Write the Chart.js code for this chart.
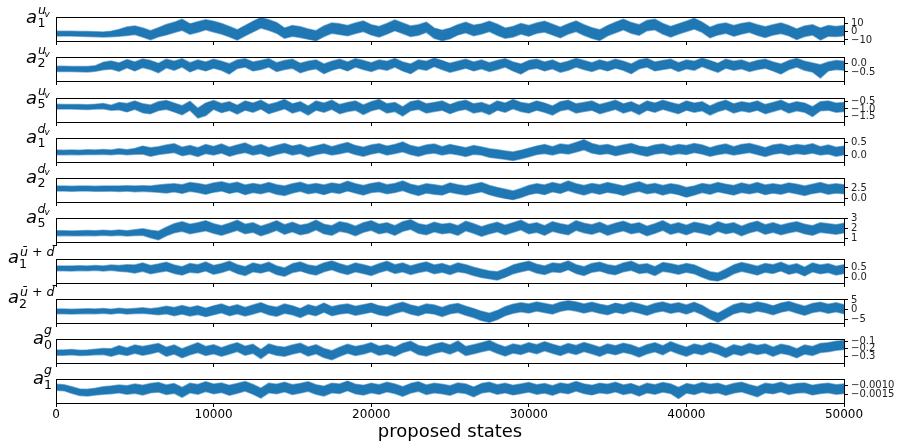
<!DOCTYPE html>
<html>
<head>
<meta charset="utf-8">
<script src="https://cdn.jsdelivr.net/npm/chart.js@4.4.1/dist/chart.umd.min.js"></script>
<style>
  html, body { margin: 0; padding: 0; background: #fff; }
  #wrap { position: relative; width: 901px; height: 443px; overflow: hidden; background: #fff; }
  #wrap canvas { position: absolute; left: 0; }
  #labels { position: absolute; left: 0; top: 0; pointer-events: none; }
  #labels text { font-family: 'DejaVu Sans'; fill: #000; }
</style>
</head>
<body>
<div id="wrap">
<svg id="labels" width="901" height="443"></svg>
</div>
<script>
// x positions of the samples (proposed state index)
const states = [
  0, 500, 1000, 1500, 2000, 2500, 3000, 3500, 4000, 4500,
  5000, 5500, 6000, 6500, 7000, 7500, 8000, 8500, 9000, 9500,
  10000, 10500, 11000, 11500, 12000, 12500, 13000, 13500, 14000, 14500,
  15000, 15500, 16000, 16500, 17000, 17500, 18000, 18500, 19000, 19500,
  20000, 20500, 21000, 21500, 22000, 22500, 23000, 23500, 24000, 24500,
  25000, 25500, 26000, 26500, 27000, 27500, 28000, 28500, 29000, 29500,
  30000, 30500, 31000, 31500, 32000, 32500, 33000, 33500, 34000, 34500,
  35000, 35500, 36000, 36500, 37000, 37500, 38000, 38500, 39000, 39500,
  40000, 40500, 41000, 41500, 42000, 42500, 43000, 43500, 44000, 44500,
  45000, 45500, 46000, 46500, 47000, 47500, 48000, 48500, 49000, 49500,
  50000
];

// lower / upper edge of each trace band
const aUv1Lo = [
  -5.2,-5.3,-5.4,-5.5,-5.9,-6.3,-6.4,-6.2,-5.6,-4.8,
  -3.6,-6.5,-9.8,-6.2,-4.0,-1.2,1.5,-3.2,-1.0,2.0,
  -0.5,-3.0,-6.2,-10.0,-5.0,-0.5,4.0,1.5,-2.0,-8.0,
  -5.5,-7.0,-9.0,-10.8,-6.0,-2.0,-3.5,-5.0,-2.5,0.0,
  -4.0,-6.5,-3.0,1.0,-2.5,-6.0,-4.5,-1.0,-8.0,-10.8,
  -8.5,-4.0,-1.5,-5.0,-3.0,0.0,-4.5,-8.0,-6.5,-3.0,
  -5.5,-2.0,-0.5,-4.0,-7.5,-3.0,0.0,-4.5,-8.0,-10.5,
  -5.0,-1.5,2.0,-2.0,-4.5,1.0,2.0,-3.0,-6.5,-3.0,
  0.0,3.0,-1.0,-7.5,-4.0,-2.0,-5.5,-3.0,-1.0,-4.5,
  -7.0,-4.0,-2.5,-5.0,-9.5,-6.0,-4.0,-10.0,-5.5,-6.0,
  -5.0
];
const aUv1Hi = [
  0.4,0.3,0.4,0.1,-0.1,-0.3,-0.5,0.2,2.4,5.2,
  6.4,4.2,1.0,4.5,8.2,10.8,14.5,9.0,11.5,14.0,
  12.0,9.5,6.0,2.0,7.0,12.0,16.5,14.0,10.5,4.0,
  7.0,5.5,3.0,1.0,6.5,10.0,9.0,7.0,10.0,12.5,
  8.0,6.0,9.5,13.5,10.0,6.5,8.0,11.0,4.0,1.5,
  4.0,8.0,11.0,7.5,9.0,12.0,8.5,4.0,6.0,9.5,
  7.0,10.0,12.0,8.5,5.0,9.0,12.5,8.0,4.5,2.0,
  7.0,11.0,14.5,10.5,8.0,13.0,14.5,9.5,6.0,9.0,
  12.0,15.5,11.0,5.0,8.5,10.0,7.0,9.5,11.0,8.0,
  5.5,8.0,10.0,7.0,3.0,6.5,8.0,4.0,7.0,6.0,
  7.0
];
const aUv2Lo = [
  -0.47,-0.47,-0.48,-0.49,-0.50,-0.46,-0.37,-0.33,-0.46,-0.26,
  -0.44,-0.24,-0.36,-0.55,-0.26,-0.40,-0.22,-0.50,-0.32,-0.44,
  -0.28,-0.40,-0.62,-0.30,-0.22,-0.44,-0.36,-0.22,-0.48,-0.36,
  -0.28,-0.55,-0.40,-0.32,-0.60,-0.40,-0.28,-0.44,-0.22,-0.36,
  -0.48,-0.32,-0.40,-0.22,-0.44,-0.60,-0.32,-0.40,-0.18,-0.36,
  -0.52,-0.40,-0.28,-0.44,-0.32,-0.48,-0.36,-0.22,-0.44,-0.62,
  -0.36,-0.28,-0.44,-0.32,-0.52,-0.40,-0.22,-0.36,-0.48,-0.32,
  -0.44,-0.28,-0.40,-0.60,-0.32,-0.22,-0.44,-0.36,-0.28,-0.48,
  -0.32,-0.40,-0.18,-0.36,-0.52,-0.28,-0.40,-0.32,-0.48,-0.36,
  -0.28,-0.44,-0.62,-0.36,-0.22,-0.40,-0.50,-0.85,-0.44,-0.36,
  -0.40
];
const aUv2Hi = [
  -0.17,-0.17,-0.18,-0.19,-0.19,-0.14,0.06,0.14,0.02,0.22,
  0.08,0.26,0.16,0.00,0.24,0.12,0.27,0.04,0.19,0.08,
  0.24,0.12,-0.02,0.20,0.27,0.08,0.16,0.27,0.04,0.16,
  0.24,0.00,0.12,0.20,-0.04,0.12,0.24,0.08,0.27,0.16,
  0.04,0.20,0.12,0.28,0.08,-0.04,0.20,0.12,0.30,0.16,
  0.00,0.12,0.24,0.08,0.20,0.04,0.16,0.27,0.08,-0.04,
  0.16,0.24,0.08,0.20,0.00,0.12,0.28,0.16,0.04,0.20,
  0.08,0.24,0.12,-0.04,0.20,0.28,0.08,0.16,0.24,0.04,
  0.20,0.12,0.30,0.16,0.00,0.24,0.12,0.20,0.04,0.16,
  0.24,0.08,-0.04,0.16,0.28,0.12,0.02,-0.08,0.08,0.16,
  0.12
];
const aUv5Lo = [
  -1.00,-1.01,-1.01,-1.02,-1.03,-1.00,-0.98,-1.08,-1.05,-1.20,
  -1.02,-1.25,-1.32,-1.10,-1.02,-1.20,-1.40,-1.08,-1.62,-1.45,
  -1.02,-1.25,-1.10,-1.35,-1.08,-1.22,-1.00,-1.32,-1.15,-0.98,
  -1.28,-1.12,-1.42,-1.08,-1.22,-1.02,-1.32,-1.18,-1.08,-1.38,
  -1.12,-0.98,-1.28,-1.18,-1.48,-1.12,-1.02,-1.28,-1.18,-1.08,
  -1.32,-1.12,-1.02,-1.28,-1.18,-1.38,-1.08,-1.22,-0.98,-1.18,
  -1.28,-1.08,-1.22,-1.42,-1.12,-1.02,-1.28,-1.18,-1.08,-1.32,
  -1.18,-1.02,-1.28,-1.12,-1.38,-1.08,-1.22,-1.02,-1.18,-1.32,
  -1.08,-1.22,-1.12,-1.42,-1.18,-1.02,-1.28,-1.12,-1.22,-1.08,
  -1.32,-1.18,-1.02,-1.28,-1.12,-1.22,-1.52,-1.12,-1.08,-1.22,
  -1.18
];
const aUv5Hi = [
  -0.68,-0.69,-0.69,-0.70,-0.71,-0.68,-0.62,-0.74,-0.55,-0.62,
  -0.45,-0.65,-0.72,-0.50,-0.42,-0.60,-0.78,-0.48,-0.95,-0.60,
  -0.42,-0.62,-0.50,-0.75,-0.45,-0.60,-0.40,-0.70,-0.55,-0.35,
  -0.65,-0.50,-0.80,-0.45,-0.60,-0.40,-0.70,-0.55,-0.45,-0.72,
  -0.50,-0.35,-0.65,-0.55,-0.85,-0.50,-0.40,-0.65,-0.55,-0.45,
  -0.70,-0.50,-0.40,-0.65,-0.55,-0.75,-0.45,-0.60,-0.35,-0.55,
  -0.65,-0.45,-0.60,-0.80,-0.50,-0.40,-0.65,-0.55,-0.45,-0.70,
  -0.55,-0.40,-0.65,-0.50,-0.75,-0.45,-0.60,-0.40,-0.55,-0.70,
  -0.45,-0.60,-0.50,-0.80,-0.55,-0.40,-0.65,-0.50,-0.60,-0.45,
  -0.70,-0.55,-0.40,-0.65,-0.50,-0.60,-0.85,-0.50,-0.45,-0.60,
  -0.55
];
const aDv1Lo = [
  0.03,0.03,0.04,0.03,0.04,0.04,0.05,0.03,0.06,0.03,
  0.05,0.06,-0.02,0.04,0.08,0.12,0.00,0.05,-0.03,0.08,
  0.02,0.10,-0.02,0.06,0.12,0.02,0.08,-0.03,0.05,0.12,
  0.02,0.08,-0.04,0.04,0.10,0.02,0.07,0.14,0.04,-0.02,
  0.06,0.12,0.02,0.08,0.15,0.04,-0.02,0.06,0.10,0.02,
  0.08,0.03,-0.03,0.05,0.02,-0.06,-0.10,-0.14,-0.18,-0.12,
  -0.04,0.04,0.08,0.02,0.10,0.06,0.14,0.22,0.10,0.04,
  0.08,0.00,0.06,0.12,0.04,-0.02,0.06,0.10,0.02,0.08,
  0.04,0.12,0.06,-0.02,0.04,0.09,0.02,0.07,0.12,0.04,
  -0.03,0.05,0.10,0.02,0.08,0.04,0.10,0.02,0.06,-0.02,
  0.03
];
const aDv1Hi = [
  0.21,0.20,0.21,0.20,0.22,0.21,0.23,0.21,0.26,0.22,
  0.27,0.36,0.30,0.34,0.40,0.45,0.32,0.38,0.30,0.42,
  0.35,0.44,0.32,0.40,0.48,0.35,0.42,0.30,0.38,0.46,
  0.36,0.42,0.30,0.37,0.44,0.34,0.42,0.50,0.38,0.32,
  0.40,0.45,0.36,0.42,0.52,0.38,0.32,0.40,0.44,0.34,
  0.42,0.36,0.30,0.38,0.33,0.26,0.22,0.18,0.14,0.20,
  0.28,0.36,0.42,0.34,0.44,0.40,0.50,0.60,0.46,0.38,
  0.42,0.34,0.40,0.46,0.36,0.32,0.40,0.44,0.35,0.42,
  0.38,0.46,0.40,0.30,0.38,0.44,0.34,0.42,0.46,0.38,
  0.30,0.40,0.44,0.36,0.42,0.38,0.45,0.34,0.40,0.32,
  0.36
];
const aDv2Lo = [
  1.75,1.78,1.72,1.76,1.80,1.74,1.70,1.78,1.68,1.75,
  1.62,1.70,1.60,1.5,1.3,1.6,1.2,1.7,1.4,1.0,
  1.5,1.8,1.2,1.6,0.9,1.4,1.1,1.6,1.0,0.7,
  1.3,1.7,1.1,1.4,0.9,1.5,1.2,1.8,1.3,0.8,
  1.4,1.6,1.1,1.4,1.9,1.2,0.7,1.3,1.0,0.8,
  1.5,1.1,0.8,1.2,1.6,0.9,0.4,0.0,-0.3,0.2,
  0.9,1.3,0.9,1.6,1.2,1.9,1.3,0.8,1.4,1.0,
  1.5,1.2,0.7,1.3,1.7,1.1,1.4,0.8,1.3,0.9,
  0.3,0.8,1.4,1.0,1.6,1.2,0.8,1.4,1.1,1.5,
  0.9,1.3,1.0,1.5,1.1,0.7,1.2,1.5,1.0,1.3,
  1.1
];
const aDv2Hi = [
  2.95,2.98,2.92,2.96,3.00,2.94,2.95,3.00,2.98,3.02,
  2.95,3.05,3.00,3.2,3.4,3.5,3.3,3.8,3.6,3.2,
  3.7,4.0,3.5,3.9,3.2,3.6,3.3,3.8,3.3,3.0,
  3.5,3.9,3.3,3.6,3.2,3.7,3.4,4.1,3.5,3.1,
  3.6,3.9,3.3,3.6,4.2,3.4,3.0,3.5,3.3,3.0,
  3.7,3.3,3.0,3.4,3.8,3.1,2.6,2.2,1.8,2.4,
  3.1,3.5,3.2,3.8,3.4,4.2,3.5,3.1,3.6,3.3,
  3.8,3.4,3.0,3.5,4.0,3.3,3.6,3.1,3.5,3.2,
  2.6,3.0,3.6,3.3,3.8,3.4,3.1,3.7,3.3,3.8,
  3.2,3.5,3.2,3.7,3.4,3.0,3.4,3.8,3.3,3.5,
  3.3
];
const aDv5Lo = [
  1.26,1.27,1.24,1.26,1.28,1.26,1.30,1.26,1.30,1.22,
  1.28,1.30,1.05,0.85,1.25,1.55,1.70,1.45,1.60,1.75,
  1.50,1.30,1.55,1.80,1.45,1.60,1.25,1.50,1.80,1.40,
  1.65,1.35,1.50,1.85,1.45,1.30,1.70,1.55,1.25,1.60,
  1.80,1.45,1.60,1.30,1.70,1.90,1.50,1.35,1.65,1.45,
  1.55,1.30,1.75,1.50,1.20,1.45,1.65,1.35,1.60,1.85,
  1.45,1.60,1.30,1.70,1.50,1.35,1.80,1.55,1.40,1.65,
  1.30,1.55,1.75,1.45,1.60,1.25,1.50,1.80,1.40,1.60,
  1.35,1.65,1.50,1.30,1.70,1.45,1.60,1.25,1.55,1.75,
  1.40,1.60,1.35,1.55,1.70,1.45,1.30,1.60,1.50,1.40,
  1.55
];
const aDv5Hi = [
  1.74,1.75,1.72,1.74,1.77,1.75,1.80,1.76,1.82,1.74,
  1.85,1.95,1.80,1.70,2.10,2.45,2.65,2.40,2.55,2.75,
  2.45,2.25,2.50,2.80,2.40,2.55,2.20,2.45,2.75,2.35,
  2.60,2.30,2.45,2.80,2.40,2.25,2.65,2.50,2.20,2.55,
  2.75,2.40,2.55,2.25,2.65,2.85,2.45,2.30,2.60,2.40,
  2.50,2.25,2.70,2.45,2.15,2.40,2.60,2.30,2.55,2.80,
  2.40,2.55,2.25,2.65,2.45,2.30,2.75,2.50,2.35,2.60,
  2.25,2.50,2.70,2.40,2.55,2.20,2.45,2.75,2.35,2.55,
  2.30,2.60,2.45,2.25,2.65,2.40,2.55,2.20,2.50,2.70,
  2.35,2.55,2.30,2.50,2.65,2.40,2.25,2.55,2.45,2.35,
  2.50
];
const aUbDb1Lo = [
  0.33,0.33,0.32,0.34,0.33,0.35,0.32,0.35,0.30,0.28,
  0.22,0.30,0.18,0.25,0.32,0.20,0.12,0.26,0.22,0.32,
  0.16,0.24,0.36,0.20,0.10,0.28,0.22,0.32,0.15,0.06,
  0.24,0.32,0.20,0.12,0.28,0.38,0.24,0.15,0.28,0.20,
  0.10,0.24,0.35,0.20,0.28,0.15,0.24,0.32,0.18,0.26,
  0.15,0.28,0.22,0.10,0.00,-0.06,-0.12,0.02,0.18,0.28,
  0.36,0.22,0.15,0.28,0.24,0.38,0.20,0.10,0.26,0.32,
  0.20,0.14,0.28,0.35,0.20,0.24,0.10,0.30,0.24,0.16,
  0.26,0.18,0.02,-0.12,-0.16,-0.02,0.18,0.30,0.22,0.12,
  0.26,0.20,0.32,0.16,0.24,0.08,0.28,0.18,0.24,0.12,
  0.20
];
const aUbDb1Hi = [
  0.56,0.56,0.55,0.57,0.56,0.58,0.56,0.60,0.58,0.62,
  0.60,0.70,0.58,0.65,0.74,0.60,0.52,0.68,0.62,0.75,
  0.58,0.66,0.78,0.62,0.52,0.70,0.62,0.74,0.56,0.46,
  0.66,0.75,0.60,0.54,0.70,0.80,0.66,0.56,0.70,0.62,
  0.52,0.66,0.78,0.62,0.70,0.56,0.66,0.75,0.60,0.68,
  0.56,0.70,0.62,0.50,0.40,0.32,0.28,0.42,0.60,0.70,
  0.78,0.64,0.56,0.70,0.66,0.80,0.62,0.52,0.68,0.74,
  0.62,0.56,0.70,0.78,0.62,0.66,0.52,0.72,0.66,0.58,
  0.68,0.60,0.44,0.28,0.22,0.40,0.60,0.72,0.64,0.54,
  0.68,0.62,0.74,0.58,0.66,0.50,0.70,0.60,0.66,0.54,
  0.62
];
const aUbDb2Lo = [
  -2.0,-2.0,-2.1,-2.0,-1.9,-2.0,-1.8,-2.1,-1.6,-2.2,
  -1.9,-1.8,-2.2,-2.5,-2.0,-3.0,-2.2,-3.2,-2.4,-3.5,
  -2.5,-1.5,-3.0,-2.0,-3.2,-2.2,-1.0,-2.5,-3.3,-1.8,
  -2.6,-4.0,-2.2,-3.0,-1.2,-3.0,-2.2,-1.6,-2.8,-2.0,
  -1.2,-2.5,-3.2,-1.8,-0.8,-2.2,-3.0,-1.6,-2.2,-3.4,
  -2.0,-1.4,-2.8,-4.0,-5.5,-6.4,-5.0,-3.0,-1.8,-1.0,
  -1.6,-0.6,-1.4,-2.2,-0.8,0.0,-0.6,-1.6,-0.8,-1.8,
  -2.6,-1.2,-2.0,-0.8,-1.6,-2.8,-1.4,-0.6,-1.8,-1.0,
  -2.2,-0.8,-2.4,-4.6,-6.4,-4.2,-2.0,-1.0,-1.8,-0.6,
  -1.4,-2.6,-1.2,-0.4,-1.6,-2.8,-1.4,-0.8,-1.8,-1.0,
  -2.0
];
const aUbDb2Hi = [
  0.4,0.4,0.3,0.4,0.5,0.4,0.6,0.3,0.8,0.4,
  0.7,1.0,0.5,1.0,1.8,1.2,2.2,1.2,2.0,0.8,
  2.0,3.0,1.5,2.6,1.2,2.4,3.6,2.0,1.3,3.0,
  2.0,0.6,2.6,1.6,3.4,1.6,2.4,3.0,1.8,2.6,
  3.4,2.0,1.4,2.8,3.8,2.4,1.6,3.0,2.4,1.2,
  2.6,3.2,1.8,0.6,-0.8,-1.8,-0.4,1.6,2.8,3.6,
  3.0,4.0,3.2,2.4,3.8,4.6,4.0,3.0,3.8,2.8,
  2.0,3.4,2.6,3.8,3.0,1.8,3.2,4.0,2.8,3.6,
  2.4,3.8,2.2,-0.2,-1.8,0.4,2.6,3.6,2.8,4.0,
  3.2,2.0,3.4,4.2,3.0,1.8,3.2,3.8,2.8,3.6,
  2.6
];
const aG0Lo = [
  -0.285,-0.285,-0.280,-0.290,-0.285,-0.280,-0.275,-0.300,-0.270,-0.290,
  -0.260,-0.285,-0.265,-0.240,-0.300,-0.270,-0.320,-0.280,-0.250,-0.290,
  -0.265,-0.300,-0.270,-0.235,-0.285,-0.260,-0.330,-0.255,-0.285,-0.300,
  -0.270,-0.245,-0.295,-0.265,-0.315,-0.345,-0.300,-0.260,-0.290,-0.270,
  -0.240,-0.285,-0.265,-0.300,-0.250,-0.220,-0.275,-0.295,-0.260,-0.235,
  -0.270,-0.225,-0.290,-0.265,-0.240,-0.215,-0.260,-0.295,-0.255,-0.275,
  -0.240,-0.265,-0.225,-0.260,-0.290,-0.250,-0.275,-0.235,-0.265,-0.300,
  -0.255,-0.280,-0.245,-0.270,-0.310,-0.265,-0.240,-0.280,-0.225,-0.265,
  -0.300,-0.255,-0.280,-0.240,-0.270,-0.315,-0.265,-0.290,-0.250,-0.275,
  -0.255,-0.300,-0.260,-0.280,-0.320,-0.270,-0.290,-0.250,-0.240,-0.220,
  -0.210
];
const aG0Hi = [
  -0.215,-0.215,-0.210,-0.220,-0.215,-0.205,-0.195,-0.200,-0.160,-0.190,
  -0.150,-0.170,-0.150,-0.130,-0.180,-0.150,-0.200,-0.160,-0.120,-0.170,
  -0.145,-0.185,-0.150,-0.120,-0.165,-0.140,-0.210,-0.135,-0.165,-0.180,
  -0.150,-0.125,-0.175,-0.145,-0.195,-0.225,-0.180,-0.140,-0.170,-0.150,
  -0.120,-0.165,-0.145,-0.180,-0.130,-0.100,-0.155,-0.175,-0.140,-0.115,
  -0.150,-0.095,-0.170,-0.145,-0.120,-0.090,-0.140,-0.175,-0.135,-0.155,
  -0.120,-0.145,-0.105,-0.140,-0.170,-0.130,-0.155,-0.115,-0.145,-0.180,
  -0.135,-0.160,-0.125,-0.150,-0.190,-0.145,-0.120,-0.160,-0.105,-0.145,
  -0.180,-0.135,-0.160,-0.120,-0.150,-0.195,-0.145,-0.170,-0.130,-0.155,
  -0.135,-0.180,-0.140,-0.160,-0.200,-0.150,-0.170,-0.130,-0.120,-0.100,
  -0.090
];
const aG1Lo = [
  -0.00128,-0.00130,-0.00145,-0.00158,-0.00160,-0.00155,-0.00150,-0.00148,-0.00142,-0.00150,
  -0.00145,-0.00155,-0.00142,-0.00138,-0.00152,-0.00145,-0.00168,-0.00142,-0.00150,-0.00135,
  -0.00148,-0.00140,-0.00156,-0.00145,-0.00132,-0.00150,-0.00172,-0.00142,-0.00148,-0.00136,
  -0.00152,-0.00144,-0.00134,-0.00150,-0.00160,-0.00142,-0.00146,-0.00130,-0.00148,-0.00155,
  -0.00142,-0.00150,-0.00136,-0.00146,-0.00162,-0.00144,-0.00134,-0.00152,-0.00142,-0.00148,
  -0.00156,-0.00140,-0.00146,-0.00165,-0.00144,-0.00136,-0.00150,-0.00142,-0.00154,-0.00146,
  -0.00138,-0.00150,-0.00144,-0.00156,-0.00140,-0.00148,-0.00132,-0.00146,-0.00154,-0.00142,
  -0.00148,-0.00136,-0.00152,-0.00144,-0.00160,-0.00142,-0.00150,-0.00138,-0.00146,-0.00175,
  -0.00144,-0.00152,-0.00138,-0.00148,-0.00142,-0.00156,-0.00144,-0.00136,-0.00150,-0.00165,
  -0.00142,-0.00148,-0.00136,-0.00152,-0.00144,-0.00140,-0.00154,-0.00146,-0.00142,-0.00150,
  -0.00146
];
const aG1Hi = [
  -0.00094,-0.00096,-0.00108,-0.00120,-0.00122,-0.00116,-0.00108,-0.00104,-0.00098,-0.00102,
  -0.00092,-0.00100,-0.00090,-0.00084,-0.00098,-0.00090,-0.00112,-0.00088,-0.00095,-0.00080,
  -0.00093,-0.00086,-0.00100,-0.00090,-0.00078,-0.00095,-0.00116,-0.00088,-0.00094,-0.00082,
  -0.00097,-0.00090,-0.00080,-0.00096,-0.00105,-0.00088,-0.00092,-0.00076,-0.00094,-0.00100,
  -0.00088,-0.00096,-0.00082,-0.00092,-0.00108,-0.00090,-0.00080,-0.00098,-0.00088,-0.00094,
  -0.00102,-0.00086,-0.00092,-0.00110,-0.00090,-0.00082,-0.00096,-0.00088,-0.00100,-0.00092,
  -0.00084,-0.00096,-0.00090,-0.00102,-0.00086,-0.00094,-0.00078,-0.00092,-0.00100,-0.00088,
  -0.00094,-0.00082,-0.00098,-0.00090,-0.00106,-0.00088,-0.00096,-0.00084,-0.00092,-0.00112,
  -0.00090,-0.00098,-0.00084,-0.00094,-0.00088,-0.00102,-0.00090,-0.00082,-0.00096,-0.00108,
  -0.00088,-0.00094,-0.00082,-0.00098,-0.00090,-0.00086,-0.00100,-0.00092,-0.00088,-0.00096,
  -0.00092
];

// tick values / labels
const xTicks = [0, 10000, 20000, 30000, 40000, 50000];
const xTickLabels = ['0', '10000', '20000', '30000', '40000', '50000'];
const yTicks = [
  [-10, 0, 10], [-0.5, 0.0], [-1.5, -1.0, -0.5], [0.0, 0.5], [0.0, 2.5],
  [1, 2, 3], [0.0, 0.5], [-5, 0, 5], [-0.3, -0.2, -0.1], [-0.0015, -0.0010]
];
const yTickLabels = [
  ['−10', '0', '10'], ['−0.5', '0.0'], ['−1.5', '−1.0', '−0.5'], ['0.0', '0.5'], ['0.0', '2.5'],
  ['1', '2', '3'], ['0.0', '0.5'], ['−5', '0', '5'], ['−0.3', '−0.2', '−0.1'], ['−0.0015', '−0.0010']
];
const yRanges = [
  [-11.2, 17.1], [-1.03, 0.37], [-1.89, -0.25], [-0.24, 0.667], [-0.87, 4.9],
  [0.63, 3.02], [-0.26, 0.89], [-6.75, 5.5], [-0.388, -0.070], [-0.0020, -0.00064]
];
// parameter names: a_sub^{sup_supsub}
const parSub = ['1', '2', '5', '1', '2', '5', '1', '2', '0', '1'];
const parSup = ['u', 'u', 'u', 'd', 'd', 'd', 'ū + d̄', 'ū + d̄', 'g', 'g'];
const parSupSub = ['v', 'v', 'v', 'v', 'v', 'v', '', '', '', ''];

const bands = [
  [aUv1Lo, aUv1Hi], [aUv2Lo, aUv2Hi], [aUv5Lo, aUv5Hi],
  [aDv1Lo, aDv1Hi], [aDv2Lo, aDv2Hi], [aDv5Lo, aDv5Hi],
  [aUbDb1Lo, aUbDb1Hi], [aUbDb2Lo, aUbDb2Hi], [aG0Lo, aG0Hi], [aG1Lo, aG1Hi]
];

Chart.defaults.font.family = 'DejaVu Sans';

const frame = {
  id: 'frame',
  afterDraw(chart) {
    const { ctx, chartArea: a } = chart;
    ctx.save();
    ctx.strokeStyle = '#000';
    ctx.lineWidth = 1;
    ctx.strokeRect(Math.round(a.left) + 0.5, Math.round(a.top) + 0.5,
      Math.round(a.right - a.left), Math.round(a.bottom - a.top));
    ctx.restore();
  }
};

const wrap = document.getElementById('wrap');
const svg = document.getElementById('labels');
const padTop = 20, plotH = 24, tickLen = 4;
const edge = 'rgba(31,119,180,0.55)';

bands.forEach(([lo, hi], i) => {
  const top = Math.round(17 + 40.27 * i);
  const last = i === bands.length - 1;
  const canvasTop = top - padTop;
  const h = last ? 443 - canvasTop : padTop + plotH + tickLen + 6;
  const xh = last ? h - padTop - plotH : tickLen;
  const cv = document.createElement('canvas');
  cv.width = 901; cv.height = h;
  cv.style.top = canvasTop + 'px';
  wrap.insertBefore(cv, svg);

  const lineStyle = {
    borderColor: edge, borderWidth: 1.5, borderJoinStyle: 'round',
    pointRadius: 0, tension: 0, clip: 0
  };
  new Chart(cv, {
    type: 'line',
    data: {
      datasets: [
        Object.assign({ data: states.map((s, k) => ({ x: s, y: lo[k] })), fill: false }, lineStyle),
        Object.assign({ data: states.map((s, k) => ({ x: s, y: hi[k] })), fill: '-1', backgroundColor: '#1f77b4' }, lineStyle)
      ]
    },
    options: {
      responsive: false,
      animation: false,
      devicePixelRatio: 1,
      events: [],
      layout: { padding: { left: 56, top: padTop, bottom: last ? 0 : 6, right: 0 } },
      plugins: { legend: { display: false }, tooltip: { enabled: false } },
      scales: {
        x: {
          type: 'linear', min: 0, max: 50000,
          afterBuildTicks: ax => { ax.ticks = xTicks.map(v => ({ value: v })); },
          afterFit: ax => { ax.height = xh; },
          grid: { drawOnChartArea: false, drawTicks: true, tickLength: tickLen, color: '#000' },
          border: { display: true, color: '#000', width: 1 },
          ticks: {
            display: last, autoSkip: false, maxRotation: 0, padding: 1,
            color: '#000', font: { size: 12 },
            callback: v => xTickLabels[xTicks.indexOf(v)]
          },
          title: {
            display: last, text: 'proposed states', color: '#000',
            font: { size: 18 }, padding: { top: 0, bottom: 0 }
          }
        },
        y: {
          type: 'linear', position: 'right',
          min: yRanges[i][0], max: yRanges[i][1],
          afterBuildTicks: ax => { ax.ticks = yTicks[i].map(v => ({ value: v })); },
          afterFit: ax => { ax.width = 57; },
          grid: { drawOnChartArea: false, drawTicks: true, tickLength: tickLen, color: '#000' },
          border: { display: true, color: '#000', width: 1 },
          ticks: {
            autoSkip: false, padding: 3, color: '#222', font: { size: 10 },
            callback: v => yTickLabels[i][yTicks[i].indexOf(v)]
          }
        }
      }
    },
    plugins: [frame]
  });

  // parameter label on the left, a_sub^{sup}
  let pos;
  if (i < 3) pos = { ax: 26, ay: 6, bx: 37.5, by: 10, cx: 38, cy: -3, dx: 44.5, dy: 0 };
  else if (i < 6) pos = { ax: 26, ay: 5, bx: 37.5, by: 9, cx: 37.5, cy: -5.5, dx: 44.5, dy: -3 };
  else if (i < 8) pos = { ax: 8, ay: 4, bx: 19, by: 8.5, cx: 20, cy: -3, dx: 0, dy: 0 };
  else pos = { ax: 33, ay: 4.5, bx: 44, by: 10, cx: 44, cy: -5, dx: 0, dy: 0 };
  const add = (txt, x, y, size, italic) => {
    const t = document.createElementNS('http://www.w3.org/2000/svg', 'text');
    t.setAttribute('x', x); t.setAttribute('y', top + y);
    t.setAttribute('font-size', size);
    if (italic) t.setAttribute('font-style', 'italic');
    t.textContent = txt;
    svg.appendChild(t);
  };
  add('a', pos.ax, pos.ay, 18, true);
  add(parSub[i], pos.bx, pos.by, 12.6, false);
  add(parSup[i], pos.cx, pos.cy, 12.6, true);
  if (parSupSub[i]) add(parSupSub[i], pos.dx, pos.dy, 8.8, true);
});
</script>
</body>
</html>
